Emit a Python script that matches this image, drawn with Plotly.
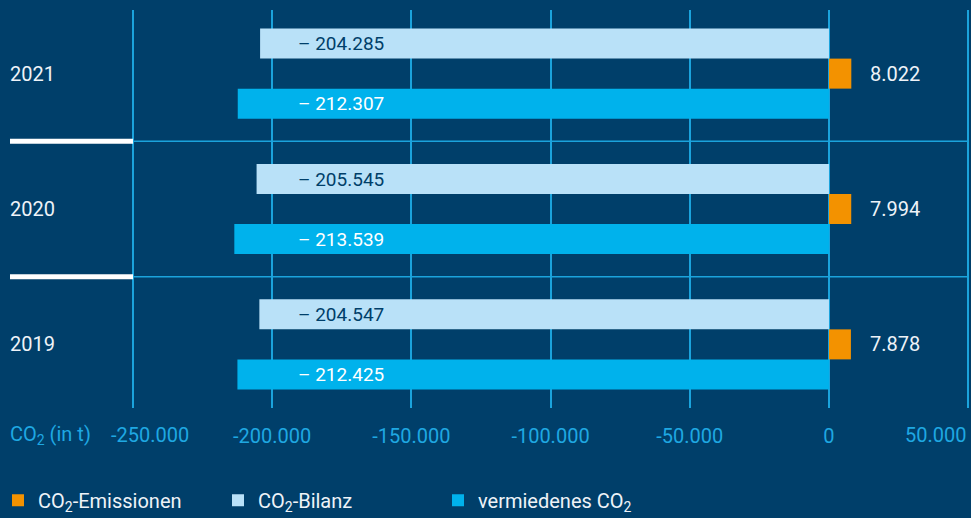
import plotly.graph_objects as go

# CO2 figures per year (tonnes)
years = ["2019", "2020", "2021"]
emissionen = [7878, 7994, 8022]
bilanz = [-204547, -205545, -204285]
vermieden = [-212425, -213539, -212307]
x_ticks = [-250000, -200000, -150000, -100000, -50000, 0, 50000]

BG = "#003f6a"
GRID = "#1ba3dc"
TICK = "#1fa8e2"
LIGHT = "#b9e1f8"
CYAN = "#00b2ec"
ORANGE = "#f39200"
WHITE = "#eef3f8"
FONT = "Roboto"
FS = 20

PLOT_L, PLOT_W = 130, 841
PAD = 1000  # overshoot so the outer grid lines are not clipped away


def de(v):
    """German thousands formatting, e.g. 204285 -> 204.285"""
    return f"{abs(v):,}".replace(",", ".")


def tick_label(v):
    return ("-" if v < 0 else "") + de(v)


def px_to_paper(px):
    return (px - PLOT_L) / PLOT_W


fig = go.Figure()
# grouped horizontal bars are stacked bottom-up in trace order
fig.add_bar(y=years, x=vermieden, orientation="h", name="vermiedenes CO<sub>2</sub>",
            marker=dict(color=CYAN, line_width=0), legendrank=3)
fig.add_bar(y=years, x=emissionen, orientation="h", name="CO<sub>2</sub>-Emissionen",
            marker=dict(color=ORANGE, line_width=0), legendrank=1)
fig.add_bar(y=years, x=bilanz, orientation="h", name="CO<sub>2</sub>-Bilanz",
            marker=dict(color=LIGHT, line_width=0), legendrank=2)

annotations = []
BAR_PX = 30
for i, (yr, e, b, v) in enumerate(zip(years, emissionen, bilanz, vermieden)):
    annotations.append(dict(x=-191500, y=i, xref="x", yref="y", yshift=BAR_PX,
                            text=f"– {de(b)}", xanchor="left", showarrow=False,
                            font=dict(color=BG, size=19, family=FONT)))
    annotations.append(dict(x=-191500, y=i, xref="x", yref="y", yshift=-BAR_PX,
                            text=f"– {de(v)}", xanchor="left", showarrow=False,
                            font=dict(color="#ffffff", size=19, family=FONT)))
    annotations.append(dict(x=e, y=i, xref="x", yref="y", xshift=17,
                            text=de(e), xanchor="left", showarrow=False,
                            font=dict(color=WHITE, size=FS, family=FONT)))
    annotations.append(dict(x=px_to_paper(8), y=i, xref="paper", yref="y",
                            text=yr, xanchor="left", showarrow=False,
                            font=dict(color=WHITE, size=FS, family=FONT)))

# outer tick labels shifted inward so they stay readable
LABEL_Y = -27
annotations.append(dict(x=x_ticks[0], y=0, xref="x", yref="paper", yshift=LABEL_Y,
                        xshift=17, text=tick_label(x_ticks[0]), xanchor="center",
                        yanchor="middle", showarrow=False,
                        font=dict(color=TICK, size=FS, family=FONT)))
annotations.append(dict(x=x_ticks[-1], y=0, xref="x", yref="paper", yshift=LABEL_Y,
                        text=tick_label(x_ticks[-1]), xanchor="right",
                        yanchor="middle", showarrow=False,
                        font=dict(color=TICK, size=FS, family=FONT)))
annotations.append(dict(x=px_to_paper(8), y=0, xref="paper", yref="paper", yshift=LABEL_Y,
                        text="CO<sub>2</sub> (in t)", xanchor="left",
                        yanchor="middle", showarrow=False,
                        font=dict(color=TICK, size=FS, family=FONT)))

shapes = []
for boundary in (0.5, 1.5):
    shapes.append(dict(type="line", xref="x", yref="y", x0=x_ticks[0], x1=x_ticks[-1],
                       y0=boundary, y1=boundary, line=dict(color=GRID, width=1.5)))
    shapes.append(dict(type="line", xref="paper", yref="y", x0=px_to_paper(10),
                       x1=px_to_paper(133), y0=boundary, y1=boundary,
                       line=dict(color="#ffffff", width=5)))

ticktext = ["" if t in (x_ticks[0], x_ticks[-1]) else tick_label(t) for t in x_ticks]

fig.update_layout(
    width=971, height=518,
    margin=dict(l=PLOT_L, r=971 - PLOT_L - PLOT_W, t=10, b=110, autoexpand=False),
    paper_bgcolor=BG, plot_bgcolor=BG,
    barmode="group", bargap=0.335, bargroupgap=0,
    font=dict(family=FONT, size=FS, color=WHITE),
    showlegend=True,
    legend=dict(orientation="h", x=px_to_paper(-2), xanchor="left", y=-0.183, yanchor="top",
                font=dict(size=FS, color=WHITE, family=FONT), bgcolor="rgba(0,0,0,0)",
                traceorder="normal", entrywidth=175, itemclick=False),
    xaxis=dict(range=[x_ticks[0] - PAD, x_ticks[-1] + PAD], tickvals=x_ticks,
               ticktext=ticktext, showgrid=True, gridcolor=GRID, gridwidth=1.5,
               zeroline=True, zerolinecolor=GRID, zerolinewidth=1.5,
               showline=False, ticks="", ticklabelstandoff=14,
               tickfont=dict(color=TICK, size=FS, family=FONT), fixedrange=True),
    yaxis=dict(type="category", categoryorder="array", categoryarray=years,
               range=[-0.47, 2.47], showticklabels=False, showgrid=False,
               zeroline=False, fixedrange=True),
    annotations=annotations,
    shapes=shapes,
)

fig.write_html("out.html", config=dict(displayModeBar=False))
